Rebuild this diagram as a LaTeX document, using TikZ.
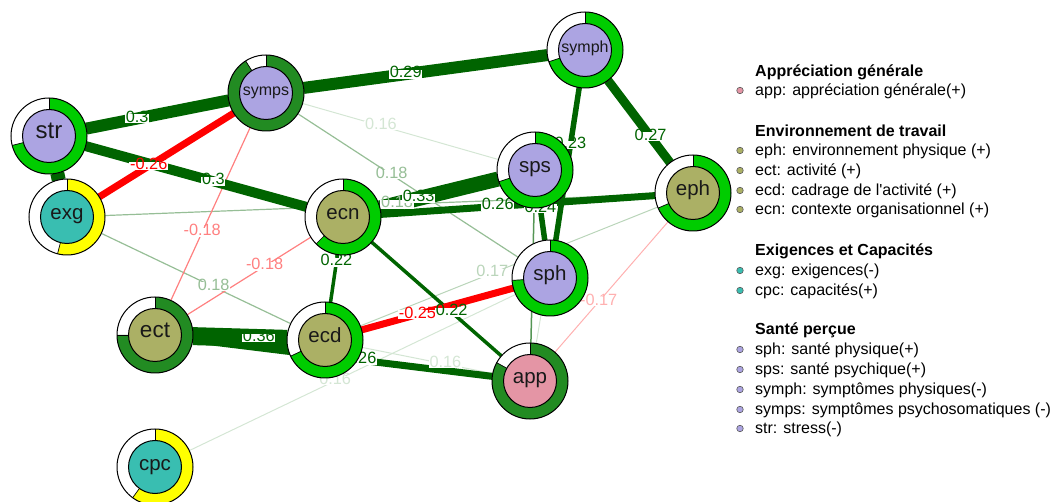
\documentclass[tikz,border=0pt]{standalone}
\usepackage{fontspec}
\setmainfont{Liberation Sans}[Ligatures=TeXOff]
\definecolor{dg}{RGB}{0,100,0}
\definecolor{rd}{RGB}{255,0,0}
\definecolor{g16}{RGB}{212,230,212}
\definecolor{g17}{RGB}{186,213,186}
\definecolor{g18}{RGB}{150,190,150}
\definecolor{g19}{RGB}{85,150,85}
\definecolor{r18}{RGB}{255,128,128}
\definecolor{r17}{RGB}{255,176,176}
\definecolor{ringg}{RGB}{0,204,0}
\definecolor{ringf}{RGB}{34,139,34}
\definecolor{ringy}{RGB}{255,255,0}
\definecolor{capp}{HTML}{E495A5}
\definecolor{cenv}{HTML}{ABB065}
\definecolor{cexc}{HTML}{39BEB1}
\definecolor{csan}{HTML}{ACA4E2}
\newcommand\ringpie[6]{%
  \fill[white] (#1.center) circle[radius=38];
  \fill[#3] (#1.center) -- ([shift={(270:38)}]#1.center) arc[start angle=270, end angle={270+360*#2}, radius=38] -- cycle;
  \draw[line width=0.7pt] ([shift={(270:26)}]#1.center) -- ([shift={(270:38)}]#1.center);
  \draw[line width=0.7pt] ([shift={({270+360*#2}:26)}]#1.center) -- ([shift={({270+360*#2}:38)}]#1.center);
  \draw[line width=1pt] (#1.center) circle[radius=38];
  \filldraw[fill=#4, line width=1pt] (#1.center) circle[radius=26.5];
  \node[nlab, font=\fontsize{#6}{#6}\selectfont] (#1-lab) at (#1.center) {#5};
}
\begin{document}
\begin{tikzpicture}[x=1pt,y=-1pt,
  vert/.style={circle, minimum size=76pt, inner sep=0pt, outer sep=0pt},
  nlab/.style={inner sep=0pt, text height=0.72em, text depth=0.12em, text=black!90},
  elab/.style={fill=white, inner sep=0.7pt, font=\fontsize{16.3}{16.3}\selectfont, text height=0.72em, text depth=0.02em},
  ef16/.style={draw=g16, line width=1pt},
  ef17/.style={draw=g17, line width=1pt},
  ef18/.style={draw=g18, line width=1.2pt},
  er17/.style={draw=r17, line width=1pt},
  er18/.style={draw=r18, line width=1.2pt},
  epos/.style={draw=dg, line width=#1},
  eneg/.style={draw=rd, line width=#1},
  ldot/.style={circle, minimum size=6.5pt, inner sep=0pt, draw=black!65, line width=0.6pt},
  ltext/.style={anchor=base west, inner sep=0pt, font=\fontsize{16}{16}\selectfont},
  lhead/.style={anchor=base west, inner sep=0pt, font=\bfseries\fontsize{16}{16}\selectfont}]
\useasboundingbox (0,0) rectangle (1055,502);
% node placeholders
\node[vert] (symph) at (585,50) {};
\node[vert] (symps) at (266,93) {};
\node[vert] (str) at (49,136) {};
\node[vert] (exg) at (67,217) {};
\node[vert] (ecn) at (343,217) {};
\node[vert] (sps) at (535,170) {};
\node[vert] (eph) at (693,193) {};
\node[vert] (sph) at (550,278) {};
\node[vert] (app) at (530,381) {};
\node[vert] (ecd) at (325,340) {};
\node[vert] (ect) at (155,335) {};
\node[vert] (cpc) at (155,467) {};
% faint edges
\draw[ef16] (symps) -- (sps);
\draw[ef16] (cpc) -- (sph);
\draw[ef16] (ecd) -- (app);
\draw[ef16] (symph) -- (app);
\draw[er17] (eph) -- (app);
\draw[ef17] (ecd) -- (eph);
\draw[ef18] (symps) -- (sph);
\draw[ef18] (exg) -- (ecd);
\draw[ef18] (exg) -- (eph);
\draw[er18] (symps) -- (ect);
\draw[er18] (ect) -- (ecn);
\draw[draw=g19, line width=1.5pt] (sps) -- (app);
% strong edges
\draw[epos=3.5pt] (ecn) -- (ecd);
\draw[epos=3.5pt] (ecn) -- (app);
\draw[epos=5.5pt] (symph) -- (sph);
\draw[epos=5.5pt] (sps) -- (sph);
\draw[eneg=7pt] (ecd) -- (sph);
\draw[epos=7pt] (ect) -- (app);
\draw[epos=7pt] (ecn) -- (eph);
\draw[eneg=7pt] (exg) -- (symps);
\draw[epos=9pt] (symph) -- (eph);
\draw[epos=12pt] (symps) -- (symph);
\draw[epos=12pt] (str) -- (symps);
\draw[epos=10pt] (str) -- (ecn);
\draw[epos=15pt] (ecn) -- (sps);
\draw[epos=14pt] (str) -- (exg);
\draw[epos=18pt] (ect) -- (ecd);
% edge labels
\path (symps) -- (sps) node[elab, text=g16, pos=0.40] (l1) {0.16};
\path (cpc) -- (sph) node[elab, text=g16, pos=0.447] (l2) {0.16};
\path (ecd) -- (app) node[elab, text=g16, pos=0.637] (l3) {0.16};
\path (eph) -- (app) node[elab, text=r17, pos=0.613] (l4) {-0.17};
\path (ecd) -- (eph) node[elab, text=g17, pos=0.444] (l5) {0.17};
\path (symps) -- (sph) node[elab, text=g18, pos=0.426] (l6) {0.18};
\path (exg) -- (ecd) node[elab, text=g18, pos=0.593] (l7) {0.18};
\path (exg) -- (eph) node[elab, text=g18, pos=0.531] (l8) {0.18};
\path (symps) -- (ect) node[elab, text=r18, pos=0.605] (l9) {-0.18};
\path (ect) -- (ecn) node[elab, text=r18, pos=0.626] (l10) {-0.18};
\path (ecn) -- (ecd) node[elab, text=dg, pos=0.16] (l11) {0.22};
\path (ecd) -- (sph) node[elab, text=rd, pos=0.368] (l12) {-0.25};
\path (ecn) -- (app) node[elab, text=dg, pos=0.617] (l13) {0.22};
\path (symph) -- (sph) node[elab, text=dg, pos=0.376] (l14) {0.23};
\path (sps) -- (sph) node[elab, text=dg, pos=0.03] (l15) {0.24};
\path (ect) -- (app) node[elab, text=dg, pos=0.56] (l16) {0.26};
\path (ecn) -- (eph) node[elab, text=dg, pos=0.426] (l17) {0.26};
\path (exg) -- (symps) node[elab, text=rd, pos=0.368] (l18) {-0.26};
\path (symph) -- (eph) node[elab, text=dg, pos=0.686] (l19) {0.27};
\path (symps) -- (symph) node[elab, text=dg, pos=0.419] (l20) {0.29};
\path (str) -- (symps) node[elab, text=dg, pos=0.357] (l21) {0.3};
\path (str) -- (ecn) node[elab, text=dg, pos=0.579] (l22) {0.3};
\path (ecn) -- (sps) node[elab, text=dg, pos=0.328] (l23) {0.33};
\path (ect) -- (ecd) node[elab, text=dg, pos=0.70] (l24) {0.36};
% nodes drawn on top
\ringpie{str}{0.71}{ringg}{csan}{str}{24}
\ringpie{symps}{0.91}{ringf}{csan}{symps}{16}
\ringpie{symph}{0.70}{ringg}{csan}{symph}{16}
\ringpie{sps}{0.70}{ringg}{csan}{sps}{20.5}
\ringpie{ecn}{0.625}{ringg}{cenv}{ecn}{20.5}
\ringpie{eph}{0.685}{ringg}{cenv}{eph}{20.5}
\ringpie{sph}{0.74}{ringg}{csan}{sph}{20.5}
\ringpie{app}{0.83}{ringf}{capp}{app}{20.5}
\ringpie{ecd}{0.68}{ringg}{cenv}{ecd}{20.5}
\ringpie{ect}{0.75}{ringf}{cenv}{ect}{22.5}
\ringpie{exg}{0.54}{ringy}{cexc}{exg}{20.5}
\ringpie{cpc}{0.60}{ringy}{cexc}{cpc}{20.5}
% legend
\node[lhead] (h1) at (755,77) {Appréciation générale};
\node[ldot, fill=capp] (d1) at (740,90.5) {};
\node[ltext] (t1) at (755,96) {app: appréciation générale(+)};
\node[lhead] (h2) at (755,137) {Environnement de travail};
\node[ldot, fill=cenv] (d2) at (740,150.5) {};
\node[ltext] (t2) at (755,156) {eph: environnement physique (+)};
\node[ldot, fill=cenv] (d3) at (740,170.5) {};
\node[ltext] (t3) at (755,176) {ect: activité (+)};
\node[ldot, fill=cenv] (d4) at (740,190.5) {};
\node[ltext] (t4) at (755,196) {ecd: cadrage de l'activité (+)};
\node[ldot, fill=cenv] (d5) at (740,209.5) {};
\node[ltext] (t5) at (755,215) {ecn: contexte organisationnel (+)};
\node[lhead] (h3) at (755,256) {Exigences et Capacités};
\node[ldot, fill=cexc] (d6) at (740,270.5) {};
\node[ltext] (t6) at (755,276) {exg: exigences(-)};
\node[ldot, fill=cexc] (d7) at (740,290.5) {};
\node[ltext] (t7) at (755,296) {cpc: capacités(+)};
\node[lhead] (h4) at (755,335) {Santé perçue};
\node[ldot, fill=csan] (d8) at (740,349.5) {};
\node[ltext] (t8) at (755,355) {sph: santé physique(+)};
\node[ldot, fill=csan] (d9) at (740,369.5) {};
\node[ltext] (t9) at (755,375) {sps: santé psychique(+)};
\node[ldot, fill=csan] (d10) at (740,389.5) {};
\node[ltext] (t10) at (755,395) {symph: symptômes physiques(-)};
\node[ldot, fill=csan] (d11) at (740,409.5) {};
\node[ltext] (t11) at (755,415) {symps: symptômes psychosomatiques (-)};
\node[ldot, fill=csan] (d12) at (740,428.5) {};
\node[ltext] (t12) at (755,434) {str: stress(-)};
\end{tikzpicture}
\end{document}
